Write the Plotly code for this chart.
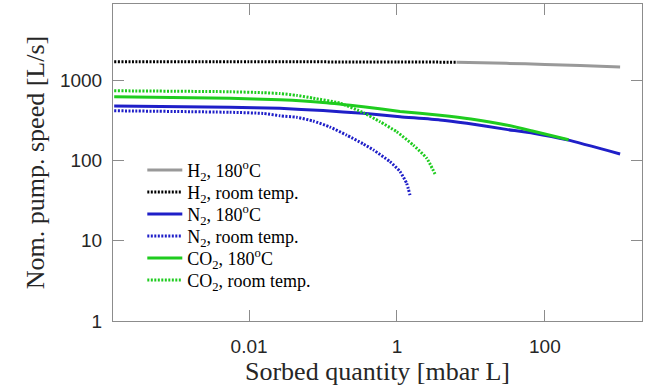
import plotly.graph_objects as go

# ---- data ----
h2_hot_x = [6.4, 30, 100, 300, 1040]
h2_hot_y = [1680, 1630, 1580, 1530, 1470]

h2_rt_x = [1.5e-4, 0.01, 1.0, 6.4]
h2_rt_y = [1710, 1705, 1695, 1685]

n2_hot_x = [1.5e-4, 0.0055, 0.026, 0.1, 0.35, 1.1, 3.8, 8.8, 30, 70, 200, 1040]
n2_hot_y = [479, 461, 448, 420, 388, 352, 321, 291, 245, 219, 181, 121]

n2_rt_x = [1.5e-4, 0.0055, 0.0154, 0.0261, 0.044, 0.0736, 0.124, 0.208, 0.351, 0.478, 0.804, 1.1, 1.35, 1.5]
n2_rt_y = [418, 400, 387, 362, 346, 311, 262, 208, 161, 136, 97, 73, 52, 37]

co2_hot_x = [1.5e-4, 0.0055, 0.026, 0.1, 0.35, 1.1, 3.8, 10, 30, 70, 209]
co2_hot_y = [625, 600, 572, 530, 469, 410, 368, 330, 278, 232, 182]

co2_rt_x = [1.5e-4, 0.0055, 0.0154, 0.026, 0.044, 0.0736, 0.169, 0.351, 0.589, 0.99, 1.66, 2.52, 3.27]
co2_rt_y = [742, 721, 702, 685, 650, 600, 520, 395, 305, 229, 156, 107, 68]

x_tickvals = [0.01, 1, 100]
x_ticktext = ["0.01", "1", "100"]
y_tickvals = [1, 10, 100, 1000]
y_ticktext = ["1", "10", "100", "1000"]

GRAY = "#999999"
BLUE = "#1f1fc8"
GREEN = "#1fcc1f"
BLACK = "#000000"
DOT = "2px,1.5px"
SERIF = "Liberation Serif, Times New Roman, serif"

fig = go.Figure()
traces = [
    (h2_hot_x, h2_hot_y, GRAY, "solid", "H<sub>2</sub>, 180<sup>o</sup>C"),
    (h2_rt_x, h2_rt_y, BLACK, DOT, "H<sub>2</sub>, room temp."),
    (n2_hot_x, n2_hot_y, BLUE, "solid", "N<sub>2</sub>, 180<sup>o</sup>C"),
    (n2_rt_x, n2_rt_y, BLUE, DOT, "N<sub>2</sub>, room temp."),
    (co2_hot_x, co2_hot_y, GREEN, "solid", "CO<sub>2</sub>, 180<sup>o</sup>C"),
    (co2_rt_x, co2_rt_y, GREEN, DOT, "CO<sub>2</sub>, room temp."),
]
legend_names = ["legend", "legend2", "legend3", "legend4", "legend5", "legend6"]
for (xs, ys, c, d, name), lg in zip(traces, legend_names):
    fig.add_trace(go.Scatter(
        x=xs, y=ys, mode="lines", name=name, legend=lg,
        line=dict(color=c, width=3, dash=d, shape="spline", smoothing=0.5),
    ))

# one legend per entry so the row spacing can match the reference
row0 = 0.4757
step = 0.0695
legend_layout = {}
for i, lg in enumerate(legend_names):
    legend_layout[lg] = dict(
        x=0.0554, y=row0 - i * step, xanchor="left", yanchor="middle",
        bgcolor="rgba(0,0,0,0)", borderwidth=0, itemwidth=35,
        font=dict(family=SERIF, size=18, color="#000000"),
    )

axis_common = dict(
    type="log", showgrid=False, zeroline=False,
    showline=True, linecolor="#8c8c8c", linewidth=1, mirror="ticks",
    ticks="inside", ticklen=11, tickcolor="#8c8c8c", tickwidth=1,
    tickfont=dict(family="Liberation Sans, Arial, sans-serif", size=19, color="#262626"),
)

fig.update_layout(
    width=659, height=392,
    margin=dict(l=113, r=17, t=4, b=71),
    paper_bgcolor="white", plot_bgcolor="white",
    showlegend=True,
    **legend_layout,
    xaxis=dict(
        **axis_common,
        range=[-3.84, 3.313],
        tickvals=x_tickvals, ticktext=x_ticktext,
        ticklabelstandoff=8,
        title=dict(text="Sorbed quantity [mbar L]",
                   font=dict(family=SERIF, size=26, color="#262626"),
                   standoff=5),
    ),
    yaxis=dict(
        **axis_common,
        range=[0, 3.952],
        tickvals=y_tickvals, ticktext=y_ticktext,
        ticklabelstandoff=6,
        title=dict(text="Nom. pump. speed [L/s]",
                   font=dict(family=SERIF, size=26, color="#262626"),
                   standoff=7),
    ),
)

fig.write_html("out.html")
